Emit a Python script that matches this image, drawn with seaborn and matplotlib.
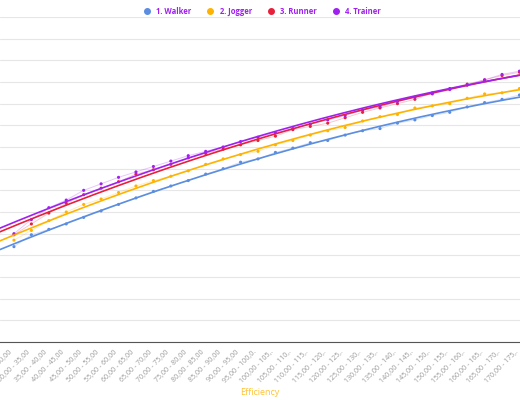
import numpy as np
import pandas as pd
import matplotlib
matplotlib.use("Agg")
import matplotlib.pyplot as plt
import seaborn as sns

# category bins "25,00 - 30,00" ... "170,00 - 175,00"
lows = list(range(25, 175, 5))
categories = [f"{lo},00 - {lo + 5},00" for lo in lows]
tick_labels = [c if len(c) <= 13 else c[:13] + "." for c in categories]

walker = [4.4, 4.95, 5.2, 5.45, 5.75, 6.05, 6.35, 6.65, 6.95, 7.2, 7.45, 7.75, 8.0, 8.3, 8.45,
          8.75, 8.95, 9.2, 9.3, 9.55, 9.75, 9.85, 10.1, 10.25, 10.45, 10.6, 10.85, 11.05, 11.2, 11.4]
jogger = [4.7, 5.15, 5.6, 6.0, 6.35, 6.6, 6.9, 7.2, 7.45, 7.65, 7.9, 8.2, 8.45, 8.65, 8.8,
          9.1, 9.3, 9.55, 9.75, 9.9, 10.2, 10.4, 10.5, 10.8, 10.9, 11.0, 11.25, 11.45, 11.5, 11.7]
runner = [4.95, 5.45, 5.95, 6.4, 6.8, 7.1, 7.4, 7.75, 7.95, 8.2, 8.5, 8.7, 8.9, 9.1, 9.3,
          9.5, 9.8, 9.95, 10.1, 10.35, 10.6, 10.8, 11.0, 11.2, 11.5, 11.7, 11.9, 12.1, 12.3, 12.45]
trainer = [5.0, 5.65, 6.2, 6.55, 7.0, 7.3, 7.6, 7.85, 8.1, 8.35, 8.6, 8.8, 9.0, 9.25, 9.45,
           9.65, 9.85, 10.05, 10.25, 10.45, 10.7, 10.85, 11.1, 11.3, 11.45, 11.65, 11.85, 12.1, 12.35, 12.5]

series = {"1. Walker": walker, "2. Jogger": jogger, "3. Runner": runner, "4. Trainer": trainer}
colors = {"1. Walker": "#5B8DE0", "2. Jogger": "#FFB300", "3. Runner": "#E8203A", "4. Trainer": "#A020F0"}

rows = []
for name, vals in series.items():
    for i, v in enumerate(vals):
        rows.append({"idx": i, "value": v, "series": name})
df = pd.DataFrame(rows)

sns.set_style("white")
plt.rcParams["font.family"] = ["Open Sans", "DejaVu Sans"]

fig = plt.figure(figsize=(5.2, 4.0), dpi=100)
ax = fig.add_axes([0, 58 / 400, 1, 325 / 400])

for name in series:
    sub = df[df.series == name]
    ax.plot(sub.idx, sub.value, color=colors[name], lw=0.7, alpha=0.25)
    sns.scatterplot(data=sub, x="idx", y="value", color=colors[name], s=5,
                    edgecolor="none", ax=ax, legend=False)
    # smooth trend
    coef = np.polyfit(sub.idx, sub.value, 2)
    xs = np.linspace(-1, 30, 200)
    ax.plot(xs, np.polyval(coef, xs), color=colors[name], lw=1.2)

ax.set_xlim(-0.8, 29.03)
ax.set_ylim(0, 15)
ax.set_yticks(range(0, 16))
ax.set_yticklabels([])
ax.tick_params(axis="y", length=0)
ax.grid(axis="y", color="#e6e6e6", lw=0.8)
ax.set_xticks(range(len(categories)))
ax.set_xticklabels(tick_labels, rotation=45, ha="right", fontsize=5, color="#999999")
ax.tick_params(axis="x", length=4, width=0.8, color="#555555", pad=1)
for s in ["top", "right", "left"]:
    ax.spines[s].set_visible(False)
ax.spines["bottom"].set_color("#555555")
ax.set_xlabel("Efficiency", color="#FFC233", fontsize=6.5, labelpad=2)
ax.set_ylabel("")

handles = [plt.Line2D([], [], marker="o", ls="", color=colors[n], markersize=4) for n in series]
leg = fig.legend(handles, list(series), loc="upper center", ncol=4, frameon=False,
                 bbox_to_anchor=(0.5, 1.0), fontsize=5.5, handletextpad=0.2, columnspacing=1.5)
for t in leg.get_texts():
    t.set_color("#A020F0")
    t.set_fontweight("bold")

fig.savefig("out.png", dpi=100)
